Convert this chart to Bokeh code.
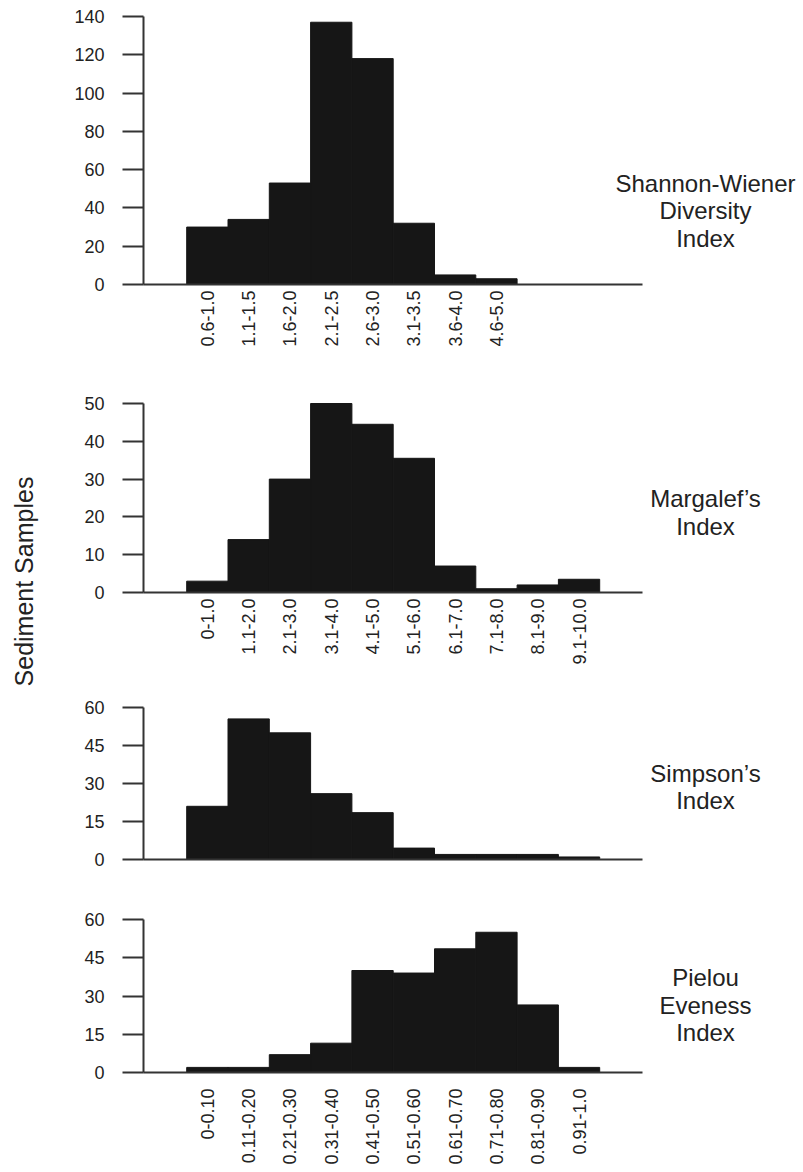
import math
from bokeh.plotting import figure
from bokeh.layouts import column
from bokeh.models import FixedTicker, Range1d, ColumnDataSource
from bokeh.core.properties import value
from bokeh.embed import file_html
from bokeh.resources import INLINE

# ---------------- data ----------------
shannon_labels = ["0.6-1.0", "1.1-1.5", "1.6-2.0", "2.1-2.5", "2.6-3.0",
                  "3.1-3.5", "3.6-4.0", "4.6-5.0"]
shannon_counts = [30, 34, 53, 137, 118, 32, 5, 3]
shannon_yticks = [0, 20, 40, 60, 80, 100, 120, 140]

margalef_labels = ["0-1.0", "1.1-2.0", "2.1-3.0", "3.1-4.0", "4.1-5.0",
                   "5.1-6.0", "6.1-7.0", "7.1-8.0", "8.1-9.0", "9.1-10.0"]
margalef_counts = [3, 14, 30, 50, 44.5, 35.5, 7, 1, 2, 3.5]
margalef_yticks = [0, 10, 20, 30, 40, 50]

simpson_labels = []
simpson_counts = [21, 55.5, 50, 26, 18.5, 4.5, 2, 2, 2, 1]
simpson_yticks = [0, 15, 30, 45, 60]

pielou_labels = ["0-0.10", "0.11-0.20", "0.21-0.30", "0.31-0.40", "0.41-0.50",
                 "0.51-0.60", "0.61-0.70", "0.71-0.80", "0.81-0.90", "0.91-1.0"]
pielou_counts = [2, 2, 7, 11.5, 40, 39, 48.5, 55, 26.5, 2]
pielou_yticks = [0, 15, 30, 45, 60]

index_names = ["Shannon-Wiener\nDiversity\nIndex", "Margalef\u2019s\nIndex",
               "Simpson\u2019s\nIndex", "Pielou\nEveness\nIndex"]
y_axis_title = "Sediment Samples"

# ---------------- style / layout ----------------
FONT = "Liberation Sans"
TXT = "#222222"
AX = "#333333"
BAR = "#161616"
W = 803
AXIS_PX = 143        # pixel of the y axis line
BAR0_PX = 186.2      # left edge of first bar
PX = 41.3            # pixels per bar
X0 = -0.5 - (BAR0_PX - AXIS_PX) / PX      # data x of y axis
X1 = -0.5 + (642 - BAR0_PX) / PX          # data x of baseline end
XS = X0 - AXIS_PX / PX
XE = X0 + (W - AXIS_PX) / PX
NAME_X = -0.5 + (705 - BAR0_PX) / PX
TITLE_X = -0.5 + (23 - BAR0_PX) / PX
LINE_PX = 27.5


def make_panel(labels, counts, yticks, height, top_b, bottom_b, standoff,
               name, name_y, title=None, title_y=None):
    ymax = yticks[-1]
    ppu = (height - top_b - bottom_b) / ymax
    p = figure(width=W, height=height, x_range=Range1d(XS, XE),
               y_range=Range1d(-bottom_b / ppu, ymax + top_b / ppu),
               output_backend="svg", toolbar_location=None,
               min_border_left=0, min_border_right=0,
               min_border_top=0, min_border_bottom=0)
    p.outline_line_color = None
    p.xgrid.visible = False
    p.ygrid.visible = False

    src = ColumnDataSource(dict(x=list(range(len(counts))), top=counts))
    p.vbar(x="x", top="top", bottom=0, width=1.0, source=src,
           fill_color=BAR, line_color=BAR, line_width=1)

    ya = p.yaxis[0]
    ya.fixed_location = X0
    ya.bounds = (0, ymax)
    ya.ticker = FixedTicker(ticks=yticks)
    ya.axis_line_color = AX
    ya.axis_line_width = 2
    ya.major_tick_line_color = AX
    ya.major_tick_line_width = 2
    ya.major_tick_out = 21
    ya.major_tick_in = 0
    ya.minor_tick_line_color = None
    ya.major_label_standoff = 18
    ya.major_label_text_font = FONT
    ya.major_label_text_font_size = "18px"
    ya.major_label_text_color = TXT

    xa = p.xaxis[0]
    xa.fixed_location = 0
    xa.bounds = (X0, X1)
    ticks = list(range(len(labels)))
    xa.ticker = FixedTicker(ticks=ticks)
    xa.major_label_overrides = {i: lab for i, lab in zip(ticks, labels)}
    xa.axis_line_color = AX
    xa.axis_line_width = 2
    xa.major_tick_line_color = None
    xa.major_tick_out = 0
    xa.major_tick_in = 0
    xa.minor_tick_line_color = None
    xa.major_label_orientation = math.pi / 2
    xa.major_label_standoff = standoff
    xa.major_label_text_font = FONT
    xa.major_label_text_font_size = "18px"
    xa.major_label_text_color = TXT

    lines = name.split("\n")
    n = len(lines)
    ys = [name_y - (k - (n - 1) / 2) * LINE_PX / ppu for k in range(n)]
    p.text(x=[NAME_X] * n, y=ys, text=lines, text_align="center",
           text_baseline="middle", text_font=value(FONT),
           text_font_size="24px", text_color=TXT)

    if title is not None:
        p.text(x=[TITLE_X], y=[title_y], text=[title], angle=math.pi / 2,
               text_align="center", text_baseline="middle",
               text_font=value(FONT), text_font_size="25px", text_color=TXT)
    return p


p1 = make_panel(shannon_labels, shannon_counts, shannon_yticks, 370, 16, 86, 6,
                index_names[0], 38.4)
p2 = make_panel(margalef_labels, margalef_counts, margalef_yticks, 320, 33, 98, 6,
                index_names[1], 21.1, title=y_axis_title, title_y=2.9)
p3 = make_panel(simpson_labels, simpson_counts, simpson_yticks, 200, 17, 31, 6,
                index_names[2], 28.7)
p4 = make_panel(pielou_labels, pielou_counts, pielou_yticks, 282, 29, 100, 16,
                index_names[3], 26.3)

layout = column(p1, p2, p3, p4, spacing=0)
open("out.html", "w").write(file_html(layout, INLINE))
